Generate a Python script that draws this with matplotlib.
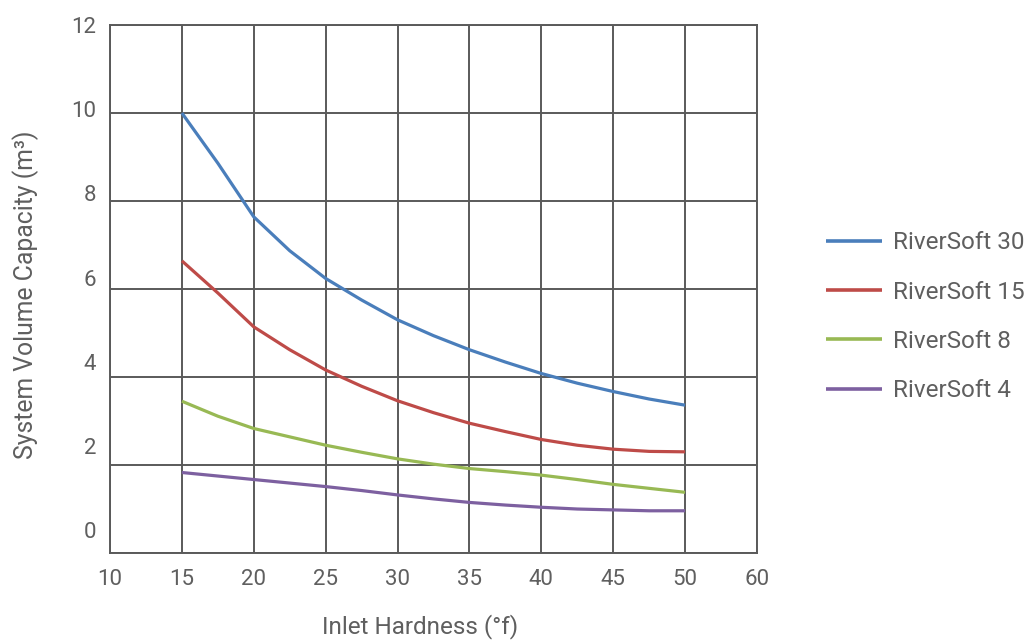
import matplotlib
matplotlib.use("Agg")
import matplotlib.pyplot as plt

plt.rcParams['font.family'] = ['Roboto', 'DejaVu Sans']

# values every 2.5 degrees
hardness = [15, 17.5, 20, 22.5, 25, 27.5, 30, 32.5, 35, 37.5, 40, 42.5, 45, 47.5, 50]
rs30 = [10.0, 8.86, 7.64, 6.87, 6.24, 5.75, 5.30, 4.94, 4.62, 4.34, 4.08, 3.86, 3.67, 3.50, 3.36]
rs15 = [6.64, 5.91, 5.14, 4.62, 4.16, 3.79, 3.46, 3.19, 2.95, 2.76, 2.58, 2.45, 2.36, 2.31, 2.30]
rs8 = [3.45, 3.11, 2.83, 2.64, 2.45, 2.29, 2.14, 2.02, 1.92, 1.85, 1.77, 1.67, 1.56, 1.47, 1.38]
rs4 = [1.83, 1.75, 1.67, 1.59, 1.51, 1.42, 1.32, 1.23, 1.15, 1.09, 1.04, 1.00, 0.98, 0.96, 0.96]

series = [
    ("RiverSoft 30", rs30, "#4a7ebb"),
    ("RiverSoft 15", rs15, "#be4b48"),
    ("RiverSoft 8", rs8, "#98b954"),
    ("RiverSoft 4", rs4, "#7d60a0"),
]

# the reference axis stops one step after 50 but labels that step "60"
x_ticks = [10, 15, 20, 25, 30, 35, 40, 45, 50, 55]
x_labels = ["10", "15", "20", "25", "30", "35", "40", "45", "50", "60"]
y_ticks = [0, 2, 4, 6, 8, 10, 12]

text_col = "#5f5f5f"
grid_col = "#5a5a5a"

fig = plt.figure(figsize=(10.34, 6.4), dpi=100)
ax = fig.add_axes([0.1064, 0.1359, 0.6257, 0.825])

for name, vals, col in series:
    ax.plot(hardness, vals, color=col, lw=2.3, label=name,
            solid_capstyle='butt', solid_joinstyle='round')

ax.set_xlim(10, 55)
ax.set_ylim(0, 12)
ax.set_xticks(x_ticks)
ax.set_xticklabels(x_labels)
ax.set_yticks(y_ticks)
ax.grid(True, color=grid_col, lw=1.4)
ax.set_axisbelow(True)
for s in ax.spines.values():
    s.set_color(grid_col)
    s.set_linewidth(1.4)
ax.tick_params(axis='x', length=0, pad=11.5, labelsize=16, labelcolor=text_col)
ax.tick_params(axis='y', length=0, labelleft=False)

# y labels in the reference sit on a slightly tighter scale than the grid
ax2 = ax.twinx()
ax2.set_ylim(-0.547, 12)
ax2.set_yticks(y_ticks)
ax2.yaxis.tick_left()
ax2.tick_params(axis='y', length=0, pad=10, labelsize=16, labelcolor=text_col)
for s in ax2.spines.values():
    s.set_visible(False)

ax.set_xlabel("Inlet Hardness (°f)", fontsize=17.5, color=text_col)
ax.xaxis.set_label_coords(0.479, -0.116)
ax.set_ylabel("System Volume Capacity (m³)", fontsize=17.8, color=text_col)
ax.yaxis.set_label_coords(-0.110, 0.49)

leg = fig.legend(loc='center left', bbox_to_anchor=(826 / 1034, 0.505),
                 frameon=False, fontsize=17.5, handlelength=2.3, handletextpad=0.45,
                 labelspacing=1.08, borderpad=0, borderaxespad=0)
for t in leg.get_texts():
    t.set_color(text_col)
for l in leg.get_lines():
    l.set_linewidth(2.6)

fig.savefig("out.png", dpi=100)
